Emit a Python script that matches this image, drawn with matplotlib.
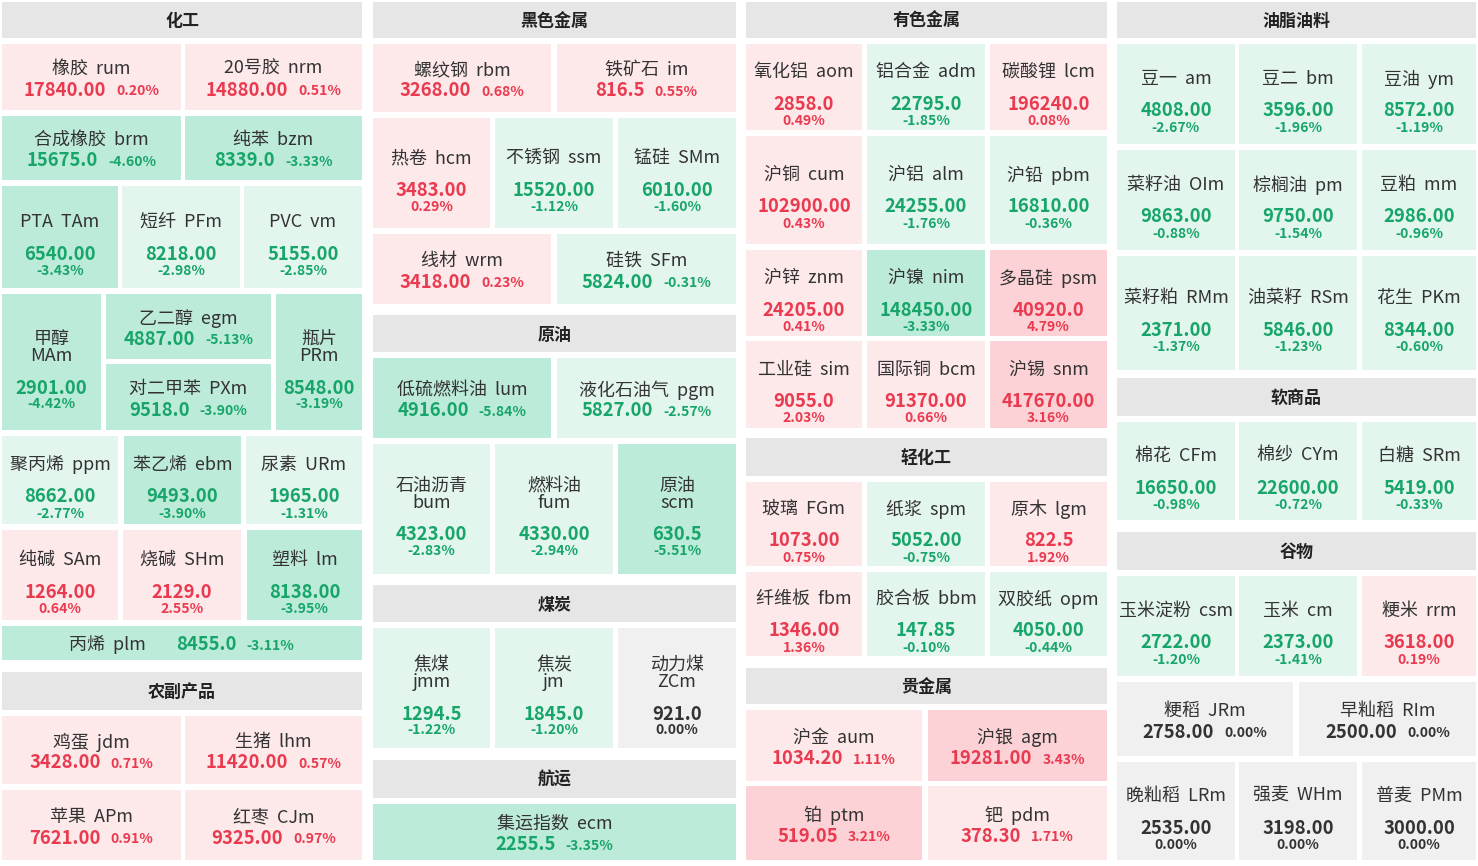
import matplotlib
matplotlib.use("Agg")
import matplotlib.pyplot as plt
from matplotlib.patches import Rectangle

plt.rcParams['font.family'] = ['Noto Sans CJK SC', 'DejaVu Sans']

# ---- data ----
names = ["橡胶", "20号胶", "合成橡胶", "纯苯", "PTA", "短纤", "PVC", "甲醇", "乙二醇", "对二甲苯", "瓶片",
         "聚丙烯", "苯乙烯", "尿素", "纯碱", "烧碱", "塑料", "丙烯",
         "鸡蛋", "生猪", "苹果", "红枣",
         "螺纹钢", "铁矿石", "热卷", "不锈钢", "锰硅", "线材", "硅铁",
         "低硫燃料油", "液化石油气", "石油沥青", "燃料油", "原油",
         "焦煤", "焦炭", "动力煤", "集运指数",
         "氧化铝", "铝合金", "碳酸锂", "沪铜", "沪铝", "沪铅", "沪锌", "沪镍", "多晶硅", "工业硅", "国际铜", "沪锡",
         "玻璃", "纸浆", "原木", "纤维板", "胶合板", "双胶纸",
         "沪金", "沪银", "铂", "钯",
         "豆一", "豆二", "豆油", "菜籽油", "棕榈油", "豆粕", "菜籽粕", "油菜籽", "花生",
         "棉花", "棉纱", "白糖",
         "玉米淀粉", "玉米", "粳米", "粳稻", "早籼稻", "晚籼稻", "强麦", "普麦"]
codes = ["rum", "nrm", "brm", "bzm", "TAm", "PFm", "vm", "MAm", "egm", "PXm", "PRm",
         "ppm", "ebm", "URm", "SAm", "SHm", "lm", "plm",
         "jdm", "lhm", "APm", "CJm",
         "rbm", "im", "hcm", "ssm", "SMm", "wrm", "SFm",
         "lum", "pgm", "bum", "fum", "scm",
         "jmm", "jm", "ZCm", "ecm",
         "aom", "adm", "lcm", "cum", "alm", "pbm", "znm", "nim", "psm", "sim", "bcm", "snm",
         "FGm", "spm", "lgm", "fbm", "bbm", "opm",
         "aum", "agm", "ptm", "pdm",
         "am", "bm", "ym", "OIm", "pm", "mm", "RMm", "RSm", "PKm",
         "CFm", "CYm", "SRm",
         "csm", "cm", "rrm", "JRm", "RIm", "LRm", "WHm", "PMm"]
prices = ["17840.00", "14880.00", "15675.0", "8339.0", "6540.00", "8218.00", "5155.00", "2901.00", "4887.00", "9518.0", "8548.00",
          "8662.00", "9493.00", "1965.00", "1264.00", "2129.0", "8138.00", "8455.0",
          "3428.00", "11420.00", "7621.00", "9325.00",
          "3268.00", "816.5", "3483.00", "15520.00", "6010.00", "3418.00", "5824.00",
          "4916.00", "5827.00", "4323.00", "4330.00", "630.5",
          "1294.5", "1845.0", "921.0", "2255.5",
          "2858.0", "22795.0", "196240.0", "102900.00", "24255.00", "16810.00", "24205.00", "148450.00", "40920.0", "9055.0", "91370.00", "417670.00",
          "1073.00", "5052.00", "822.5", "1346.00", "147.85", "4050.00",
          "1034.20", "19281.00", "519.05", "378.30",
          "4808.00", "3596.00", "8572.00", "9863.00", "9750.00", "2986.00", "2371.00", "5846.00", "8344.00",
          "16650.00", "22600.00", "5419.00",
          "2722.00", "2373.00", "3618.00", "2758.00", "2500.00", "2535.00", "3198.00", "3000.00"]
pcts = [0.20, 0.51, -4.60, -3.33, -3.43, -2.98, -2.85, -4.42, -5.13, -3.90, -3.19,
        -2.77, -3.90, -1.31, 0.64, 2.55, -3.95, -3.11,
        0.71, 0.57, 0.91, 0.97,
        0.68, 0.55, 0.29, -1.12, -1.60, 0.23, -0.31,
        -5.84, -2.57, -2.83, -2.94, -5.51,
        -1.22, -1.20, 0.00, -3.35,
        0.49, -1.85, 0.08, 0.43, -1.76, -0.36, 0.41, -3.33, 4.79, 2.03, 0.66, 3.16,
        0.75, -0.75, 1.92, 1.36, -0.10, -0.44,
        1.11, 3.43, 3.21, 1.71,
        -2.67, -1.96, -1.19, -0.88, -1.54, -0.96, -1.37, -1.23, -0.60,
        -0.98, -0.72, -0.33,
        -1.20, -1.41, 0.19, 0.00, 0.00, 0.00, 0.00, 0.00]

headers = ["化工", "农副产品", "黑色金属", "原油", "煤炭", "航运", "有色金属", "轻化工", "贵金属",
           "油脂油料", "软商品", "谷物"]

# ---- layout (pixels: x0, y0, x1, y1, mode) ----
# modes: I inline, S stacked, T stacked w/ two-line name, L single line
header_rects = [(2, 2, 362, 38), (2, 672, 362, 710), (373, 2, 736, 38), (373, 315, 736, 352),
                (373, 585, 736, 622), (373, 760, 736, 798), (746, 2, 1107, 38), (746, 438, 1107, 476),
                (746, 668, 1107, 704), (1117, 2, 1476, 38), (1117, 378, 1476, 416), (1117, 532, 1476, 570)]
cells = [
    (2, 44, 181, 110, "I"), (185, 44, 362, 110, "I"), (2, 116, 181, 180, "I"), (185, 116, 362, 180, "I"),
    (2, 186, 118, 288, "S"), (122, 186, 240, 288, "S"), (244, 186, 362, 288, "S"),
    (2, 294, 101, 430, "T"), (106, 294, 271, 359, "I"), (106, 364, 271, 430, "I"), (276, 294, 362, 430, "T"),
    (2, 436, 118, 524, "S"), (124, 436, 241, 524, "S"), (246, 436, 362, 524, "S"),
    (2, 530, 118, 620, "S"), (123, 530, 241, 620, "S"), (247, 530, 362, 620, "S"),
    (2, 626, 362, 660, "L"),
    (2, 716, 181, 784, "I"), (185, 716, 362, 784, "I"), (2, 790, 181, 860, "I"), (185, 790, 362, 860, "I"),
    (373, 44, 551, 112, "I"), (557, 44, 736, 112, "I"),
    (373, 118, 490, 228, "S"), (495, 118, 613, 228, "S"), (618, 118, 736, 228, "S"),
    (373, 234, 551, 304, "I"), (557, 234, 736, 304, "I"),
    (373, 358, 551, 438, "I"), (557, 358, 736, 438, "I"),
    (373, 444, 490, 574, "T"), (495, 444, 613, 574, "T"), (618, 444, 736, 574, "T"),
    (373, 628, 490, 748, "T"), (495, 628, 613, 748, "T"), (618, 628, 736, 748, "T"),
    (373, 804, 736, 860, "I"),
    (746, 44, 862, 130, "S"), (867, 44, 985, 130, "S"), (990, 44, 1107, 130, "S"),
    (746, 136, 862, 244, "S"), (867, 136, 985, 244, "S"), (990, 136, 1107, 244, "S"),
    (746, 250, 862, 336, "S"), (867, 250, 985, 336, "S"), (990, 250, 1107, 336, "S"),
    (746, 341, 862, 428, "S"), (867, 341, 985, 428, "S"), (990, 341, 1107, 428, "S"),
    (746, 482, 862, 566, "S"), (867, 482, 985, 566, "S"), (990, 482, 1107, 566, "S"),
    (746, 572, 862, 656, "S"), (867, 572, 985, 656, "S"), (990, 572, 1107, 656, "S"),
    (746, 710, 922, 781, "I"), (928, 710, 1107, 781, "I"), (746, 786, 922, 860, "I"), (928, 786, 1107, 860, "I"),
    (1117, 44, 1235, 144, "S"), (1239, 44, 1357, 144, "S"), (1362, 44, 1476, 144, "S"),
    (1117, 150, 1235, 250, "S"), (1239, 150, 1357, 250, "S"), (1362, 150, 1476, 250, "S"),
    (1117, 256, 1235, 370, "S"), (1239, 256, 1357, 370, "S"), (1362, 256, 1476, 370, "S"),
    (1117, 422, 1235, 520, "S"), (1239, 422, 1357, 520, "S"), (1362, 422, 1476, 520, "S"),
    (1117, 576, 1235, 676, "S"), (1239, 576, 1357, 676, "S"), (1362, 576, 1476, 676, "S"),
    (1117, 682, 1293, 756, "I"), (1299, 682, 1476, 756, "I"),
    (1117, 762, 1235, 860, "S"), (1239, 762, 1357, 860, "S"), (1362, 762, 1476, 860, "S"),
]

W, H = 1478, 866
fig = plt.figure(figsize=(W / 100, H / 100), dpi=100)
ax = fig.add_axes([0, 0, 1, 1])
ax.set_xlim(0, W)
ax.set_ylim(H, 0)
ax.axis("off")
PX = 0.72  # pt per px at dpi 100

def colors(p):
    if p > 3: return "#fcd2d6", "#ea3a4f"
    if p > 0: return "#fde8ea", "#ea3a4f"
    if p == 0: return "#f0f0f0", "#333333"
    if p < -3: return "#bdebda", "#17a56a"
    return "#e3f6ee", "#17a56a"

for (x0, y0, x1, y1), h in zip(header_rects, headers):
    ax.add_patch(Rectangle((x0, y0), x1 - x0, y1 - y0, color="#e6e6e6", lw=0))
    ax.text((x0 + x1) / 2, (y0 + y1) / 2 + 1, h, ha="center", va="center", fontsize=17 * PX,
            fontweight="bold", color="#222222")

fig.canvas.draw()
rend = fig.canvas.get_renderer()

NAME = 18 * PX
PRICE = 18.5 * PX
PCT = 14 * PX

def pair(cx, cy, price, pct, col, gap=10):
    t1 = ax.text(0, cy, price, ha="left", va="center", fontsize=PRICE, fontweight="bold", color=col)
    t2 = ax.text(0, cy, pct, ha="left", va="center", fontsize=PCT, fontweight="bold", color=col)
    w1 = t1.get_window_extent(rend).width
    w2 = t2.get_window_extent(rend).width
    start = cx - (w1 + gap + w2) / 2
    t1.set_x(start)
    t2.set_x(start + w1 + gap)
    t2.set_y(cy + 1)

for (x0, y0, x1, y1, mode), n, c, pr, p in zip(cells, names, codes, prices, pcts):
    bg, col = colors(p)
    ax.add_patch(Rectangle((x0, y0), x1 - x0, y1 - y0, color=bg, lw=0))
    cx, cy = (x0 + x1) / 2, (y0 + y1) / 2
    ps = f"{p:.2f}%"
    if mode == "I":
        ax.text(cx, cy - 8, f"{n}  {c}", ha="center", va="center", fontsize=NAME, color="#333333")
        pair(cx, cy + 13, pr, ps, col)
    elif mode == "S":
        ax.text(cx, cy - 15, f"{n}  {c}", ha="center", va="center", fontsize=NAME, color="#333333")
        ax.text(cx, cy + 17, pr, ha="center", va="center", fontsize=PRICE, fontweight="bold", color=col)
        ax.text(cx, cy + 34, ps, ha="center", va="center", fontsize=PCT, fontweight="bold", color=col)
    elif mode == "T":
        ax.text(cx, cy - 23, n, ha="center", va="center", fontsize=NAME, color="#333333")
        ax.text(cx, cy - 6, c, ha="center", va="center", fontsize=NAME, color="#333333")
        ax.text(cx, cy + 26, pr, ha="center", va="center", fontsize=PRICE, fontweight="bold", color=col)
        ax.text(cx, cy + 42, ps, ha="center", va="center", fontsize=PCT, fontweight="bold", color=col)
    else:
        tn = ax.text(0, cy + 2, f"{n}  {c}", ha="left", va="center", fontsize=NAME, color="#333333")
        wn = tn.get_window_extent(rend).width
        t1 = ax.text(0, cy + 2, pr, ha="left", va="center", fontsize=PRICE, fontweight="bold", color=col)
        t2 = ax.text(0, cy + 3, ps, ha="left", va="center", fontsize=PCT, fontweight="bold", color=col)
        w1 = t1.get_window_extent(rend).width
        w2 = t2.get_window_extent(rend).width
        start = cx - (wn + 30 + w1 + 10 + w2) / 2
        tn.set_x(start)
        t1.set_x(start + wn + 30)
        t2.set_x(start + wn + 30 + w1 + 10)

fig.savefig("out.png", dpi=100)
